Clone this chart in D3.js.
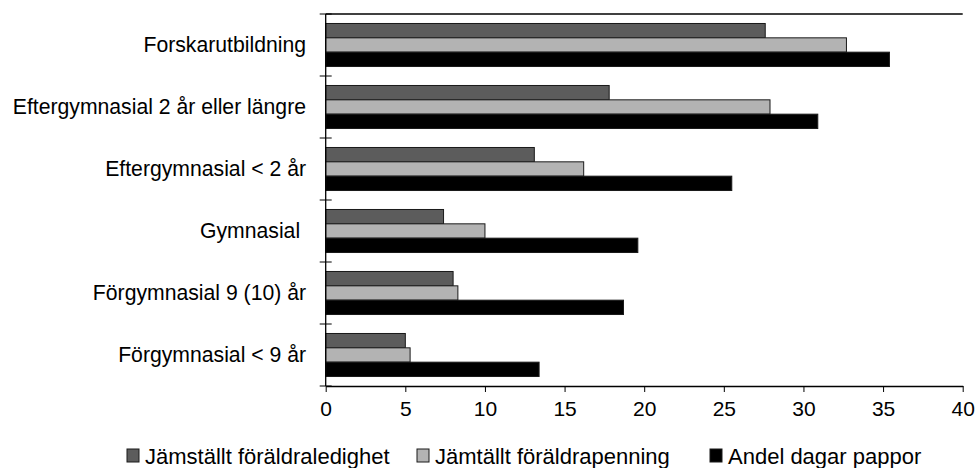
<!DOCTYPE html>
<html>
<head>
<meta charset="utf-8">
<script src="https://cdn.jsdelivr.net/npm/d3@7"></script>
<style>
  html, body { margin: 0; padding: 0; background: #fff; }
  svg { display: block; font-family: "Liberation Sans", Arial, sans-serif; }
</style>
</head>
<body>
<svg id="chart" width="976" height="468"></svg>
<script>
// ---- data ----
const categories = [
  "Forskarutbildning",
  "Eftergymnasial 2 år eller längre",
  "Eftergymnasial < 2 år",
  "Gymnasial ",
  "Förgymnasial 9 (10) år",
  "Förgymnasial < 9 år"
];
const seriesNames = [
  "Jämställt föräldraledighet",
  "Jämtällt föräldrapenning",
  "Andel dagar pappor"
];
const jamstalltLedighet = [27.6, 17.8, 13.1, 7.4, 8.0, 5.0];
const jamstalltPenning  = [32.7, 27.9, 16.2, 10.0, 8.3, 5.3];
const andelDagarPappor  = [35.4, 30.9, 25.5, 19.6, 18.7, 13.4];
const xTicks = [0, 5, 10, 15, 20, 25, 30, 35, 40];
const seriesValues = [jamstalltLedighet, jamstalltPenning, andelDagarPappor];
const seriesColors = ["#5c5c5c", "#b3b3b3", "#000000"];

// ---- layout ----
(function () {
const svg = d3.select("#chart");
const pLeft = 325.7, pRight = 962.7, pTop = 14, pBottom = 386;

const x = d3.scaleLinear().domain([0, 40]).range([pLeft, pRight]);
const y = d3.scaleBand().domain(categories).range([pTop, pBottom]).padding(0);
const ySub = d3.scaleBand().domain(seriesNames)
  .range([y.bandwidth() * 0.153, y.bandwidth() * 0.847]).padding(0);

// bars
const rows = categories.map((c, i) => ({ cat: c, vals: seriesValues.map((s, k) => ({ name: seriesNames[k], v: s[i], k })) }));
const g = svg.append("g");
const rowG = g.selectAll("g.row").data(rows).join("g")
  .attr("class", "row")
  .attr("transform", d => `translate(0,${y(d.cat)})`);
rowG.selectAll("rect").data(d => d.vals).join("rect")
  .attr("x", x(0))
  .attr("y", d => ySub(d.name))
  .attr("width", d => x(d.v) - x(0))
  .attr("height", ySub.bandwidth())
  .attr("fill", d => seriesColors[d.k])
  .attr("stroke", "#1a1a1a")
  .attr("stroke-width", 1);

// top border line
svg.append("line")
  .attr("x1", x(0)).attr("x2", x(40))
  .attr("y1", pTop).attr("y2", pTop)
  .attr("stroke", "#000").attr("stroke-width", 1.3);

// x axis
const xAxis = d3.axisBottom(x).tickValues(xTicks).tickSizeInner(6).tickSizeOuter(0).tickPadding(9);
const xg = svg.append("g").attr("transform", `translate(0,${pBottom})`).call(xAxis);
xg.select(".domain").attr("stroke", "#000").attr("stroke-width", 1.3);
xg.selectAll(".tick line").attr("stroke", "#000");
xg.selectAll(".tick text").attr("font-size", 21).attr("fill", "#000")
  .attr("font-family", "'Liberation Sans', Arial, sans-serif");

// y axis line + crossing ticks at band boundaries
svg.append("line")
  .attr("x1", x(0)).attr("x2", x(0)).attr("y1", pTop).attr("y2", pBottom)
  .attr("stroke", "#000").attr("stroke-width", 1.3);
const boundaries = categories.map(c => y(c)).concat([y(categories[categories.length - 1]) + y.bandwidth()]);
svg.selectAll("line.ytick").data(boundaries).join("line")
  .attr("class", "ytick")
  .attr("x1", x(0) - 6).attr("x2", x(0) + 6)
  .attr("y1", d => d).attr("y2", d => d)
  .attr("stroke", "#000").attr("stroke-width", 1);

// category labels
svg.selectAll("text.cat").data(categories).join("text")
  .attr("class", "cat")
  .attr("x", 306)
  .attr("y", d => y(d) + y.bandwidth() / 2)
  .attr("dy", "0.35em")
  .attr("text-anchor", "end")
  .attr("font-size", 21.2)
  .style("white-space", "pre")
  .attr("fill", "#000")
  .text(d => d);

// legend
const legendX = [127, 417, 710];
const lg = svg.selectAll("g.leg").data(seriesNames).join("g")
  .attr("class", "leg")
  .attr("transform", (d, i) => `translate(${legendX[i]},449)`);
lg.append("rect").attr("width", 12).attr("height", 13)
  .attr("fill", (d, i) => seriesColors[i]).attr("stroke", "#1a1a1a").attr("stroke-width", 1);
lg.append("text").attr("x", 18).attr("y", 14.5)
  .attr("font-size", 22).attr("fill", "#000")
  .text(d => d);
})();
</script>
</body>
</html>
